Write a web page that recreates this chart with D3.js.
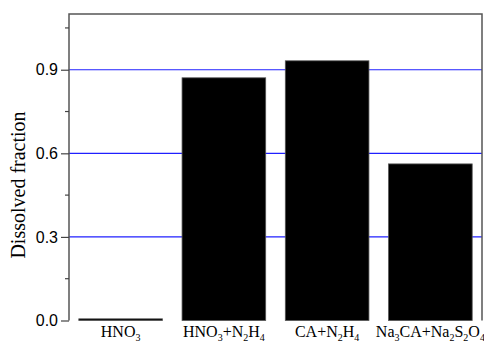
<!DOCTYPE html>
<html>
<head>
<meta charset="utf-8">
<script src="https://cdn.jsdelivr.net/npm/d3@7"></script>
<style>
  body { margin: 0; background: #fff; }
  svg { display: block; }
</style>
</head>
<body>
<svg id="chart" width="484" height="343"></svg>
<script>
// categories as formula parts: [text, isSubscript]
var categories = ["HNO3", "HNO3+N2H4", "CA+N2H4", "Na3CA+Na2S2O4"];
var categoryParts = [
  [["HNO", 0], ["3", 1]],
  [["HNO", 0], ["3", 1], ["+N", 0], ["2", 1], ["H", 0], ["4", 1]],
  [["CA+N", 0], ["2", 1], ["H", 0], ["4", 1]],
  [["Na", 0], ["3", 1], ["CA+Na", 0], ["2", 1], ["S", 0], ["2", 1], ["O", 0], ["4", 1]]
];
var values = [0.006, 0.871, 0.932, 0.562];
var majorTicks = [0.0, 0.3, 0.6, 0.9];
var minorTicks = [0.15, 0.45, 0.75, 1.05];
var gridValues = [0.3, 0.6, 0.9];

var margin = { left: 69, right: 2, top: 14, bottom: 22.5 };
var width = 484, height = 343;

var svg = d3.select("#chart");

var x = d3.scaleBand()
  .domain(categories)
  .range([margin.left, width - margin.right])
  .paddingInner(0.19)
  .paddingOuter(0.095);

var y = d3.scaleLinear()
  .domain([0, 1.1])
  .range([height - margin.bottom, margin.top]);

// blue grid lines
svg.append("g")
  .selectAll("line")
  .data(gridValues)
  .enter().append("line")
  .attr("x1", margin.left)
  .attr("x2", width - margin.right)
  .attr("y1", function(d) { return y(d); })
  .attr("y2", function(d) { return y(d); })
  .attr("stroke", "#2020ff")
  .attr("stroke-width", 1.2);

// bars
svg.append("g")
  .selectAll("rect")
  .data(values)
  .enter().append("rect")
  .attr("x", function(d, i) { return x(categories[i]); })
  .attr("width", x.bandwidth())
  .attr("y", function(d) { return y(d); })
  .attr("height", function(d) { return y(0) - y(d); })
  .attr("fill", "#000")
  .attr("stroke", "#555")
  .attr("stroke-width", 0.8);

// frame (left, top, right)
svg.append("path")
  .attr("d", "M" + margin.left + "," + y(0) + "V" + margin.top + "H" + (width - margin.right) + "V" + y(0))
  .attr("fill", "none")
  .attr("stroke", "#555")
  .attr("stroke-width", 1.5);

// y axis
var yAxis = d3.axisLeft(y)
  .tickValues(majorTicks)
  .tickFormat(d3.format(".1f"))
  .tickSize(8)
  .tickPadding(3);

var gy = svg.append("g")
  .attr("transform", "translate(" + margin.left + ",0)")
  .call(yAxis);
gy.select(".domain").remove();
gy.selectAll(".tick line").attr("stroke", "#444").attr("stroke-width", 1.2);
gy.selectAll(".tick text")
  .attr("fill", "#000")
  .style("font-family", "'Liberation Sans', Arial, sans-serif")
  .style("font-size", "16px");

svg.append("g")
  .selectAll("line")
  .data(minorTicks)
  .enter().append("line")
  .attr("x1", margin.left - 4)
  .attr("x2", margin.left)
  .attr("y1", function(d) { return y(d); })
  .attr("y2", function(d) { return y(d); })
  .attr("stroke", "#444")
  .attr("stroke-width", 1.2);

// y title
svg.append("text")
  .attr("transform", "translate(25,185) rotate(-90)")
  .attr("text-anchor", "middle")
  .style("font-family", "'Liberation Serif', 'Times New Roman', serif")
  .style("font-size", "20px")
  .text("Dissolved fraction");

// category labels with subscripts
var labels = svg.append("g")
  .selectAll("text")
  .data(categories)
  .enter().append("text")
  .attr("x", function(d) { return x(d) + x.bandwidth() / 2; })
  .attr("y", 336.5)
  .attr("text-anchor", "middle")
  .style("font-family", "'Liberation Serif', 'Times New Roman', serif")
  .style("font-size", "16px");

labels.each(function(d, i) {
  var t = d3.select(this);
  var prevSub = false;
  categoryParts[i].forEach(function(p) {
    var ts = t.append("tspan").text(p[0]);
    if (p[1]) {
      ts.style("font-size", "10px").attr("dy", prevSub ? 0 : 4.5);
    } else {
      ts.attr("dy", prevSub ? -4.5 : 0);
    }
    prevSub = !!p[1];
  });
});
</script>
</body>
</html>
